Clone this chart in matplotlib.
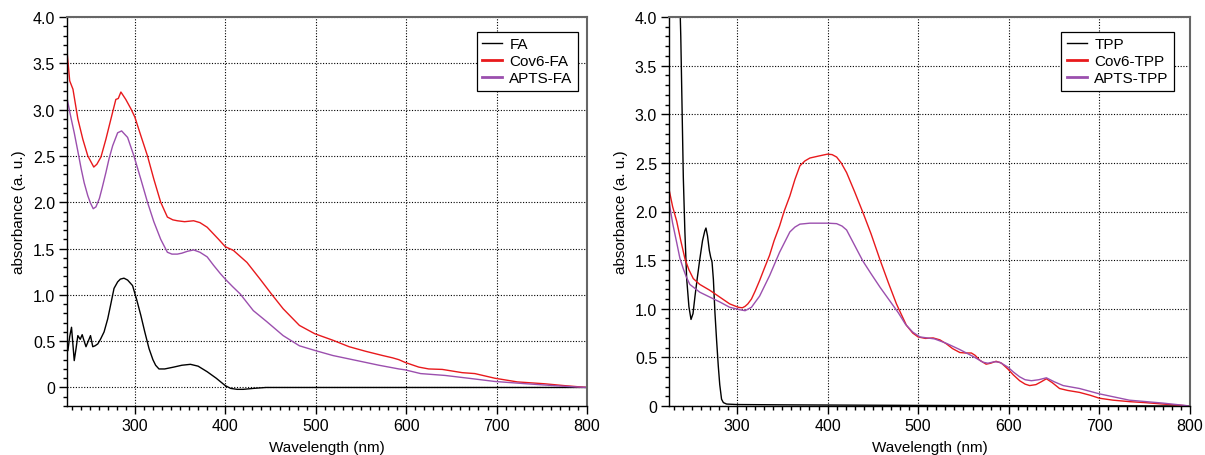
import matplotlib
matplotlib.use("Agg")
import matplotlib.pyplot as plt
from matplotlib.ticker import MultipleLocator, FuncFormatter

plt.rcParams['font.family'] = ['Liberation Sans', 'DejaVu Sans']
plt.rcParams['font.size'] = 11

# ---------------- Left panel data (FA) ----------------
wl_fa = [226, 228, 230, 233, 235, 237, 239.6, 241.8, 244, 246, 248.5, 251, 253.5, 256, 259, 262,
         266, 270, 273, 277, 281, 284, 288, 292, 297.5, 302, 306.6, 311, 315.7, 320, 323,
         326.7, 333, 343, 352, 361.5, 370, 380, 390, 400, 406, 413, 420, 431, 445, 500, 600, 700, 800]
fa = [0.40, 0.55, 0.65, 0.29, 0.42, 0.56, 0.52, 0.57, 0.50, 0.44, 0.50, 0.56, 0.44, 0.45, 0.47, 0.52,
      0.60, 0.74, 0.88, 1.07, 1.14, 1.17, 1.18, 1.16, 1.10, 0.95, 0.78, 0.60, 0.42, 0.30, 0.24,
      0.20, 0.20, 0.22, 0.24, 0.25, 0.23, 0.17, 0.10, 0.02, -0.01, -0.02, -0.02, -0.01, 0.0, 0.0, 0.0, 0.0, 0.0]

wl_cov6_fa = [225.3, 228, 231.6, 237, 242.5, 248, 254.6, 258, 262.6, 268, 273.6, 279, 281.7, 284.6,
              290, 295.6, 300, 306.6, 314, 321, 328.6, 336, 342, 347, 355, 365, 372, 380, 392.6, 400,
              409, 424, 438.5, 451, 464, 482, 499, 519, 537, 555.5, 574, 585, 592, 599, 614, 625,
              640, 662, 676, 698, 723, 753, 775, 800]
cov6_fa = [3.60, 3.31, 3.22, 2.90, 2.68, 2.50, 2.38, 2.41, 2.49, 2.68, 2.90, 3.11, 3.12, 3.19,
           3.11, 3.01, 2.92, 2.72, 2.50, 2.25, 2.00, 1.84, 1.81, 1.80, 1.79, 1.80, 1.78, 1.73, 1.60, 1.52,
           1.48, 1.35, 1.17, 1.01, 0.85, 0.67, 0.58, 0.51, 0.44, 0.39, 0.345, 0.32, 0.30, 0.27, 0.22, 0.20,
           0.195, 0.16, 0.15, 0.10, 0.06, 0.04, 0.02, 0.0]

wl_apts_fa = [225.3, 229, 233, 237, 240.7, 244, 248, 251, 254, 257, 260.8, 264, 268, 271.5, 275.5,
              281, 285.4, 292, 299, 306.6, 314, 321, 328.6, 336, 341, 347, 352, 358, 365, 372, 380,
              387, 394.5, 400, 408, 416.5, 431, 446, 464, 482, 499, 519, 555.5, 570, 592, 599, 616,
              643, 673, 698, 733, 771, 800]
apts_fa = [3.11, 2.93, 2.75, 2.55, 2.36, 2.21, 2.07, 1.99, 1.93, 1.95, 2.04, 2.16, 2.32, 2.47, 2.61,
           2.75, 2.77, 2.70, 2.50, 2.25, 2.00, 1.79, 1.60, 1.46, 1.44, 1.44, 1.45, 1.47, 1.485, 1.46, 1.41,
           1.32, 1.23, 1.17, 1.09, 1.01, 0.83, 0.71, 0.56, 0.45, 0.40, 0.345, 0.27, 0.24, 0.20, 0.19, 0.15,
           0.13, 0.095, 0.065, 0.04, 0.015, 0.0]

# ---------------- Right panel data (TPP) ----------------
wl_tpp = [225, 230, 235, 238, 240.8, 242.5, 244.5, 247, 249.3, 251.5, 253.7, 256, 259, 262, 264.5,
          265.8, 267.5, 269.5, 271, 272.5, 274, 275.7, 277.5, 279.4, 281, 283, 285, 288.6, 300, 350,
          400, 500, 600, 700, 800]
tpp = [8.8, 7.0, 4.9, 3.8, 2.35, 1.80, 1.31, 1.02, 0.89, 0.95, 1.13, 1.30, 1.51, 1.70, 1.80,
       1.83, 1.75, 1.60, 1.53, 1.48, 1.30, 0.96, 0.68, 0.41, 0.22, 0.07, 0.035, 0.02, 0.015, 0.012,
       0.010, 0.006, 0.004, 0.002, 0.0]

wl_cov6_tpp = [225, 229, 233.5, 238, 242.7, 247, 251.8, 259, 270, 281, 292, 301.5, 306, 309, 312, 316,
               320, 325, 330, 336, 341, 347, 352, 358.4, 364, 369.5, 375, 380.5, 390, 400, 405, 410,
               415, 421, 430, 439, 448, 458, 467, 476, 482, 487, 494, 500, 508, 516.5, 524, 531, 538,
               546, 552, 558.7, 563, 568, 575, 580, 586, 592, 599, 605, 612, 618, 623, 630, 636, 641.5,
               648, 656, 665, 678, 690, 700, 715, 733, 750, 770, 785, 800]
cov6_tpp = [2.23, 2.05, 1.90, 1.70, 1.51, 1.40, 1.31, 1.25, 1.19, 1.12, 1.05, 1.015, 1.01, 1.025, 1.05, 1.10,
            1.18, 1.29, 1.41, 1.55, 1.70, 1.85, 2.00, 2.16, 2.33, 2.47, 2.52, 2.55, 2.57, 2.59, 2.585, 2.56,
            2.50, 2.40, 2.20, 1.99, 1.77, 1.50, 1.27, 1.05, 0.93, 0.83, 0.75, 0.71, 0.695, 0.70, 0.68, 0.64, 0.59,
            0.55, 0.545, 0.545, 0.52, 0.47, 0.43, 0.44, 0.46, 0.44, 0.38, 0.32, 0.26, 0.225, 0.21, 0.22, 0.25, 0.28,
            0.24, 0.18, 0.16, 0.14, 0.11, 0.08, 0.06, 0.045, 0.035, 0.02, 0.01, 0.0]

wl_apts_tpp = [225, 229, 233.5, 237, 240.8, 244, 248, 259, 270, 281, 292, 303, 309, 316, 325, 336, 347,
               358.4, 364, 369.5, 380.5, 400, 410, 416, 421, 430, 439, 448, 458, 468, 478, 486, 494, 502,
               510, 518, 531, 546, 560.5, 571.6, 577, 584, 590, 599, 605, 612, 618, 625, 633, 641.5, 650,
               660, 678, 700, 733, 770, 800]
apts_tpp = [2.10, 1.88, 1.68, 1.52, 1.41, 1.33, 1.25, 1.17, 1.12, 1.07, 1.015, 0.99, 0.98, 1.015, 1.13, 1.34, 1.58,
            1.79, 1.84, 1.87, 1.88, 1.88, 1.875, 1.85, 1.81, 1.65, 1.49, 1.36, 1.22, 1.09, 0.96, 0.84, 0.76, 0.71,
            0.70, 0.69, 0.645, 0.58, 0.51, 0.45, 0.44, 0.455, 0.45, 0.40, 0.35, 0.30, 0.27, 0.26, 0.27, 0.29, 0.25,
            0.21, 0.18, 0.125, 0.06, 0.03, 0.0]

BLACK = '#000000'
RED = '#e8191c'
PURPLE = '#9b4fae'

fig = plt.figure(figsize=(12.05, 4.56), dpi=100)
W, H = 1205, 456
axL = fig.add_axes([67 / W, 1 - 407 / H, 520 / W, 389 / H])
axR = fig.add_axes([669 / W, 1 - 407 / H, 521 / W, 389 / H])


def yfmt(v, pos):
    if abs(v) < 1e-9:
        return '0'
    return '%.1f' % v


def style(ax, ymin, legend_right):
    ax.set_xlim(225, 800)
    ax.set_ylim(ymin, 4.0)
    ax.xaxis.set_major_locator(MultipleLocator(100))
    ax.xaxis.set_minor_locator(MultipleLocator(10))
    ax.yaxis.set_major_locator(MultipleLocator(0.5))
    ax.yaxis.set_minor_locator(MultipleLocator(0.1))
    ax.yaxis.set_major_formatter(FuncFormatter(yfmt))
    ax.tick_params(which='major', direction='out', length=6, width=1, labelsize=11.5, pad=2.5)
    ax.tick_params(which='minor', direction='out', length=3, width=1)
    ax.tick_params(top=False, right=False)
    ax.grid(True, which='major', color='black', linestyle=(0, (1, 1.5)), linewidth=0.8)
    for s in ('top', 'right'):
        ax.spines[s].set_color('#666666')
        ax.spines[s].set_linewidth(1.5)
    for s in ('left', 'bottom'):
        ax.spines[s].set_color('black')
        ax.spines[s].set_linewidth(1.0)
    ax.set_xlabel('Wavelength (nm)', fontsize=11, labelpad=5)
    ax.set_ylabel('absorbance (a. u.)', fontsize=11, labelpad=5)
    leg = ax.legend(loc='upper right', bbox_to_anchor=(legend_right, 1 - 15 / 389),
                    borderaxespad=0, frameon=True, fancybox=False, framealpha=1,
                    edgecolor='black', fontsize=11, handlelength=1.3, handletextpad=0.5,
                    labelspacing=0.2, borderpad=0.35)
    leg.get_frame().set_linewidth(0.9)
    for i, line in enumerate(leg.get_lines()):
        line.set_linewidth(1.0 if i == 0 else 2.0)


axL.plot(wl_fa, fa, color=BLACK, lw=1.0, label='FA')
axL.plot(wl_cov6_fa, cov6_fa, color=RED, lw=1.0, label='Cov6-FA')
axL.plot(wl_apts_fa, apts_fa, color=PURPLE, lw=1.0, label='APTS-FA')
style(axL, -0.2, 1 - 9 / 520)

axR.plot(wl_tpp, tpp, color=BLACK, lw=1.0, label='TPP')
axR.plot(wl_cov6_tpp, cov6_tpp, color=RED, lw=1.0, label='Cov6-TPP')
axR.plot(wl_apts_tpp, apts_tpp, color=PURPLE, lw=1.0, label='APTS-TPP')
style(axR, 0.0, 1 - 16 / 521)

fig.savefig('out.png', dpi=100)
